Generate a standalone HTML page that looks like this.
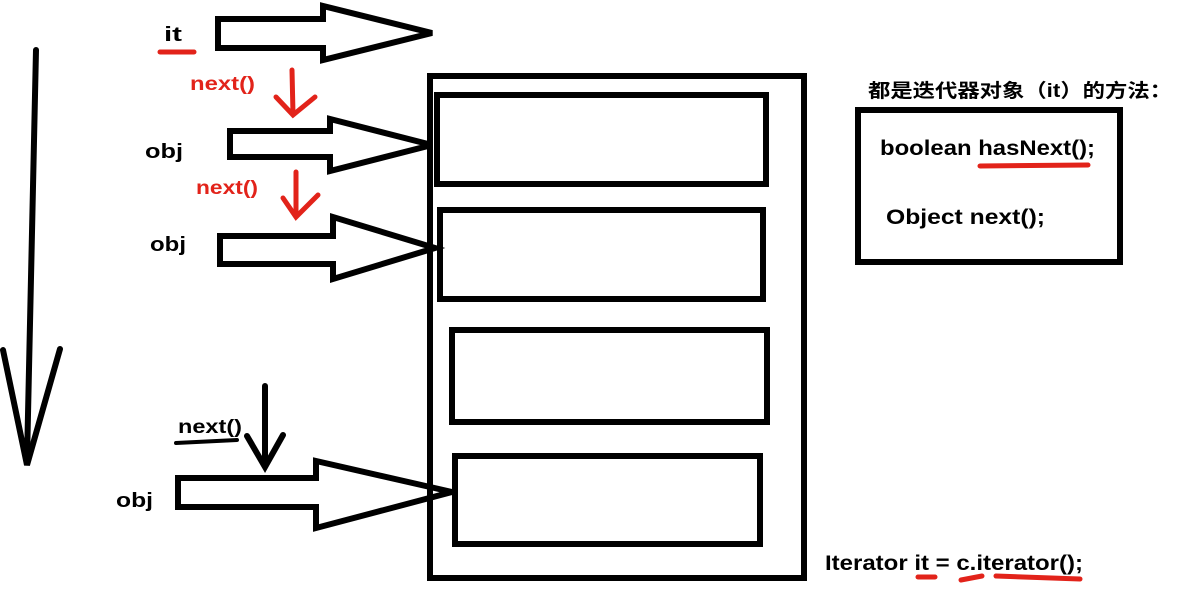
<!DOCTYPE html>
<html><head><meta charset="utf-8"><style>
html,body{margin:0;padding:0;background:#fff;}
svg{display:block}
text{font-family:"Liberation Sans","Noto Sans CJK SC",sans-serif;font-weight:bold;}
</style></head><body>
<svg width="1186" height="599" viewBox="0 0 1186 599" xmlns="http://www.w3.org/2000/svg">
<g fill="none" stroke="#000" stroke-width="6" stroke-linejoin="miter">
<rect x="430" y="76" width="374" height="502"/>
<rect x="437" y="95" width="329" height="89"/>
<rect x="440" y="210" width="323" height="89"/>
<rect x="452" y="330" width="315" height="92"/>
<rect x="455" y="456" width="305" height="88"/>
<rect x="858" y="110" width="262" height="152"/>
<polygon points="218,19 323,19 323,6 432,33 323,60 323,48 218,48"/>
<polygon points="230,131 330,131 330,119 432,145 330,171 330,157 230,157"/>
<polygon points="220,236 333,236 333,217 435,248 333,279 333,264 220,264"/>
<polygon points="178,478 316,478 316,461 452,492 316,528 316,507 178,507"/>
<g stroke-linecap="round">
<line x1="36" y1="50" x2="27" y2="460"/>
<polyline points="3,350 27,465 60,349"/>
<line x1="265" y1="386" x2="265" y2="466"/>
<polyline points="247,436 265,467 283,435"/>
<line x1="176" y1="443" x2="237" y2="440" stroke-width="4"/>
</g>
</g>
<g fill="none" stroke="#e2231a" stroke-width="5" stroke-linecap="round">
<line x1="292" y1="70" x2="293" y2="114"/>
<polyline points="276,97 293,115 315,97"/>
<line x1="296" y1="172" x2="296" y2="215"/>
<polyline points="283,198 296,217 318,195"/>
<line x1="160" y1="52" x2="194" y2="52" stroke-width="5"/>
<line x1="980" y1="166" x2="1088" y2="165"/>
<line x1="918" y1="577" x2="935" y2="577"/>
<line x1="961" y1="580" x2="982" y2="576"/>
<line x1="996" y1="576" x2="1080" y2="579"/>
</g>
<text x="164" y="41" font-size="20" textLength="18" lengthAdjust="spacingAndGlyphs">it</text>
<text x="190" y="90" font-size="19" fill="#e2231a" textLength="65" lengthAdjust="spacingAndGlyphs">next()</text>
<text x="196" y="194" font-size="19" fill="#e2231a" textLength="62" lengthAdjust="spacingAndGlyphs">next()</text>
<text x="145" y="158" font-size="20" textLength="38" lengthAdjust="spacingAndGlyphs">obj</text>
<text x="150" y="251" font-size="20" textLength="36" lengthAdjust="spacingAndGlyphs">obj</text>
<text x="116" y="507" font-size="20" textLength="37" lengthAdjust="spacingAndGlyphs">obj</text>
<text x="178" y="433" font-size="19" textLength="64" lengthAdjust="spacingAndGlyphs">next()</text>
<text x="868" y="97" font-size="19" textLength="304" lengthAdjust="spacingAndGlyphs">都是迭代器对象（it）的方法：</text>
<text x="880" y="155" font-size="21" textLength="215" lengthAdjust="spacingAndGlyphs">boolean hasNext();</text>
<text x="886" y="224" font-size="21" textLength="159" lengthAdjust="spacingAndGlyphs">Object  next();</text>
<text x="825" y="570" font-size="21" textLength="258" lengthAdjust="spacingAndGlyphs">Iterator it = c.iterator();</text>
</svg>
</body></html>
